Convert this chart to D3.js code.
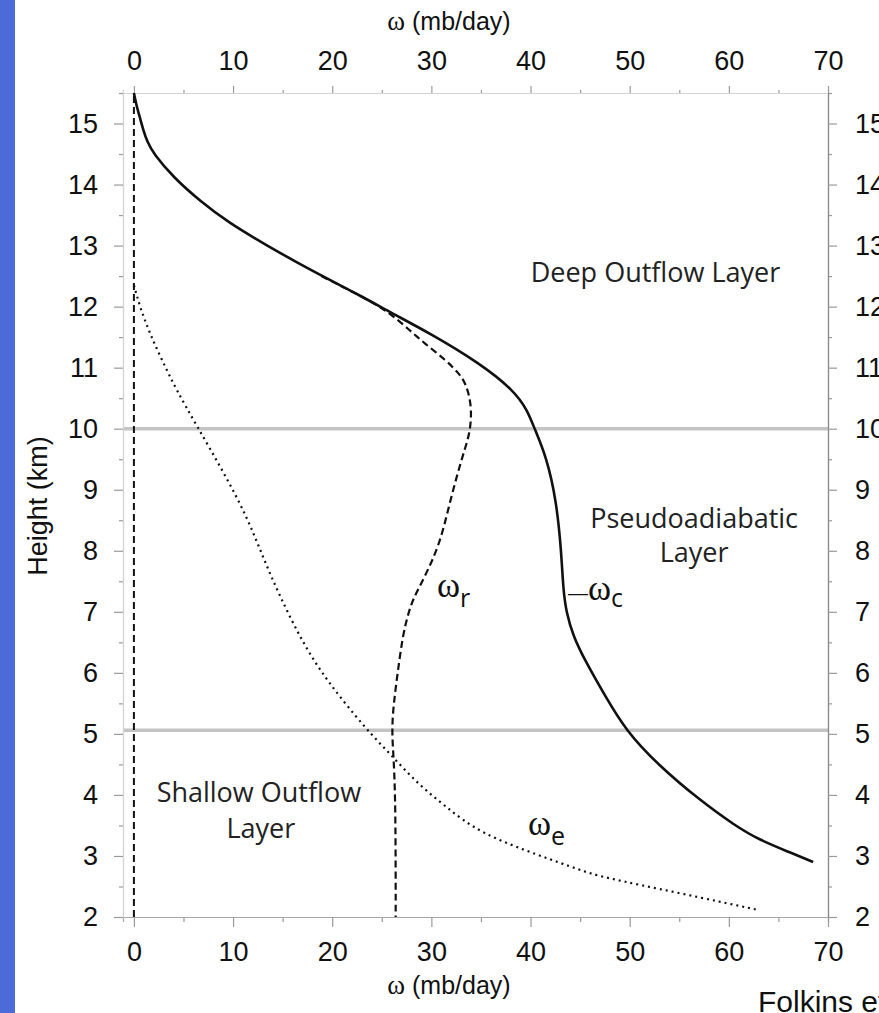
<!DOCTYPE html>
<html>
<head>
<meta charset="utf-8">
<script src="https://cdn.jsdelivr.net/npm/d3@7"></script>
<style>
  html, body { margin: 0; padding: 0; background: #fff; }
  svg { display: block; }
</style>
</head>
<body>
<script>
// ---- data (height in km, omega in mb/day) ----
const omegaC_h = [15.5, 15.3, 15.1, 14.89, 14.7, 14.51, 14.12, 13.73, 13.37, 13.04, 12.57, 12.16, 11.91, 11.56, 11.07, 10.63, 10.3, 10.0, 9.54, 8.83, 8.0, 7.36, 7.0, 6.6, 6.2, 5.6, 5.06, 4.5, 3.91, 3.5, 3.26, 3.05, 2.9];
const omegaC_v = [0.0, 0.25, 0.6, 0.95, 1.35, 1.96, 3.97, 6.67, 9.6, 13.0, 18.1, 23.1, 25.8, 29.9, 34.9, 38.3, 39.7, 40.4, 41.6, 42.6, 43.1, 43.3, 43.6, 44.3, 45.5, 47.6, 49.6, 52.8, 57.1, 60.6, 63.1, 66.3, 68.5];

const omegaR_h = [12.5, 12.16, 11.9, 11.6, 11.4, 11.12, 10.9, 10.74, 10.36, 9.92, 9.59, 8.83, 8.12, 7.53, 7.26, 7.0, 6.6, 6.0, 5.5, 5.06, 4.6, 4.0, 3.0, 2.0];
const omegaR_v = [18.9, 23.1, 25.8, 27.9, 29.3, 31.5, 32.8, 33.5, 34.1, 33.9, 33.2, 31.9, 30.9, 29.2, 28.3, 27.7, 27.1, 26.6, 26.2, 26.0, 26.2, 26.35, 26.4, 26.4];

const omegaE_h = [12.35, 12.0, 11.56, 11.1, 10.63, 10.06, 9.3, 8.56, 7.9, 7.26, 6.5, 5.88, 5.06, 4.68, 4.2, 3.8, 3.37, 3.0, 2.77, 2.66, 2.39, 2.11];
const omegaE_v = [0.0, 0.6, 1.6, 2.9, 4.3, 6.3, 9.0, 11.4, 13.0, 14.7, 17.0, 19.4, 23.5, 25.8, 28.5, 31.5, 34.9, 41.0, 45.0, 47.0, 55.1, 63.1];

const zeroLine_h = [2.0, 15.5];
const zeroLine_v = [0, 0];

const layerBoundaries = [10.0, 5.06];

const xTicks = [0, 10, 20, 30, 40, 50, 60, 70];
const xMinorTicks = [5, 15, 25, 35, 45, 55, 65];
const yTicks = [2, 3, 4, 5, 6, 7, 8, 9, 10, 11, 12, 13, 14, 15];
const yMinorTicks = [2.5, 3.5, 4.5, 5.5, 6.5, 7.5, 8.5, 9.5, 10.5, 11.5, 12.5, 13.5, 14.5, 15.5];

// each text line: [text, height (km), omega (mb/day) at its centre]
const layerLabelLines = [
  ["Deep Outflow Layer", 12.57, 52.6],
  ["Pseudoadiabatic", 8.53, 56.5],
  ["Layer", 7.98, 56.5],
  ["Shallow Outflow", 4.05, 12.6],
  ["Layer", 3.45, 12.8]
];

// curve labels: [subscript, height at baseline, omega at left edge, leading dash]
const curveLabels = [
  ["r", 7.24, 30.57, false],
  ["c", 7.19, 43.77, true],
  ["e", 3.34, 39.74, false]
];

// ---- drawing ----
const W = 879, H = 1013;
const svg = d3.select("body").append("svg").attr("width", W).attr("height", H)
  .style("font-family", "'Liberation Sans', Arial, sans-serif");

svg.append("rect").attr("x", 0).attr("y", 0).attr("width", W).attr("height", H).attr("fill", "#fff");
svg.append("rect").attr("x", 0).attr("y", 0).attr("width", 15).attr("height", H).attr("fill", "#4a6bd8");

const x = d3.scaleLinear().domain([-1.1, 70]).range([123, 828]);
const y = d3.scaleLinear().domain([2, 15.5]).range([917, 93]);

function styleAxis(g, lineColor) {
  g.select(".domain").attr("stroke", lineColor).attr("stroke-width", 1.2);
  g.selectAll(".tick line").attr("stroke", "#9a9a9a").attr("stroke-width", 1.2);
  g.selectAll("text").attr("fill", "#111").style("font-size", "27px")
    .style("font-family", "'Liberation Sans', Arial, sans-serif");
}

// gray layer boundaries
svg.selectAll(".bound").data(layerBoundaries).enter().append("line")
  .attr("x1", x(-1.1)).attr("x2", x(70))
  .attr("y1", d => y(d)).attr("y2", d => y(d))
  .attr("stroke", "#c4c4c4").attr("stroke-width", 3.5);

// Top axis
styleAxis(svg.append("g").attr("transform", `translate(0,${y(15.5)})`)
  .call(d3.axisTop(x).tickValues(xMinorTicks).tickSize(3).tickFormat("")), "#d4d4d4");
styleAxis(svg.append("g").attr("transform", `translate(0,${y(15.5)})`)
  .call(d3.axisTop(x).tickValues(xTicks).tickSize(7).tickSizeOuter(0).tickPadding(16)), "#d4d4d4");

// Bottom axis
styleAxis(svg.append("g").attr("transform", `translate(0,${y(2)})`)
  .call(d3.axisBottom(x).tickValues(xMinorTicks).tickSize(5).tickFormat("")), "#a8a8a8");
styleAxis(svg.append("g").attr("transform", `translate(0,${y(2)})`)
  .call(d3.axisBottom(x).tickValues(xTicks).tickSize(10).tickSizeOuter(0).tickPadding(15)), "#a8a8a8");

// Left axis
styleAxis(svg.append("g").attr("transform", `translate(${x(-1.1)},0)`)
  .call(d3.axisLeft(y).tickValues(yMinorTicks).tickSize(4).tickFormat("")), "#d4d4d4");
styleAxis(svg.append("g").attr("transform", `translate(${x(-1.1)},0)`)
  .call(d3.axisLeft(y).tickValues(yTicks).tickSize(9).tickSizeOuter(0).tickPadding(16)), "#d4d4d4");

// Right axis
styleAxis(svg.append("g").attr("transform", `translate(${x(70)},0)`)
  .call(d3.axisRight(y).tickValues(yMinorTicks).tickSize(4).tickFormat("")), "#8a8a8a");
styleAxis(svg.append("g").attr("transform", `translate(${x(70)},0)`)
  .call(d3.axisRight(y).tickValues(yTicks).tickSize(9).tickSizeOuter(0).tickPadding(18)), "#8a8a8a");

// Curves
const line = d3.line().curve(d3.curveBasis);
function pts(hs, vs) { return hs.map((h, i) => [x(vs[i]), y(h)]); }

svg.append("path").attr("d", d3.line()(pts(zeroLine_h, zeroLine_v)))
  .attr("fill", "none").attr("stroke", "#111").attr("stroke-width", 2)
  .attr("stroke-dasharray", "7,4");

svg.append("path").attr("d", line(pts(omegaE_h, omegaE_v)))
  .attr("fill", "none").attr("stroke", "#111").attr("stroke-width", 2.2)
  .attr("stroke-dasharray", "2,4");

svg.append("path").attr("d", line(pts(omegaR_h, omegaR_v)))
  .attr("fill", "none").attr("stroke", "#111").attr("stroke-width", 2.2)
  .attr("stroke-dasharray", "7,4");

svg.append("path").attr("d", line(pts(omegaC_h, omegaC_v)))
  .attr("fill", "none").attr("stroke", "#111").attr("stroke-width", 2.6);

// Layer labels
svg.selectAll(".layerlab").data(layerLabelLines).enter().append("text")
  .attr("text-anchor", "middle")
  .attr("x", d => x(d[2])).attr("y", d => y(d[1])).attr("dy", "0.36em")
  .style("font-family", "'Open Sans', 'Noto Sans', sans-serif")
  .style("font-size", "27px").attr("fill", "#222")
  .text(d => d[0]);

// Curve labels
curveLabels.forEach(([sub, h, v, dash]) => {
  const t = svg.append("text").attr("x", x(v)).attr("y", y(h)).attr("fill", "#111");
  if (dash) {
    t.append("tspan").style("font-family", "'Liberation Sans', sans-serif").style("font-size", "20px").text("\u2014");
  }
  t.append("tspan").style("font-family", "'Liberation Serif', serif").style("font-size", "35px").text("\u03c9");
  t.append("tspan").attr("dy", sub === "c" ? 7 : 10)
    .style("font-family", "'Open Sans', sans-serif").style("font-size", "25px").text(sub);
});

// Axis titles
function omegaTitle(yp) {
  const t = svg.append("text").attr("x", 449).attr("y", yp).attr("text-anchor", "middle")
    .attr("fill", "#111").style("font-size", "25px");
  t.append("tspan").style("font-family", "'Liberation Serif', serif").style("font-size", "27px").text("\u03c9");
  t.append("tspan").style("font-family", "'Liberation Sans', sans-serif").text(" (mb/day)");
}
omegaTitle(30);
omegaTitle(994);

svg.append("text").attr("transform", "translate(47,506) rotate(-90)")
  .attr("text-anchor", "middle").attr("fill", "#111")
  .style("font-size", "27px").text("Height (km)");

// Caption (cut by the window edge, as in the reference)
svg.append("text").attr("x", 758).attr("y", 1012).attr("fill", "#111")
  .style("font-size", "30px").text("Folkins et al.");
</script>
</body>
</html>
